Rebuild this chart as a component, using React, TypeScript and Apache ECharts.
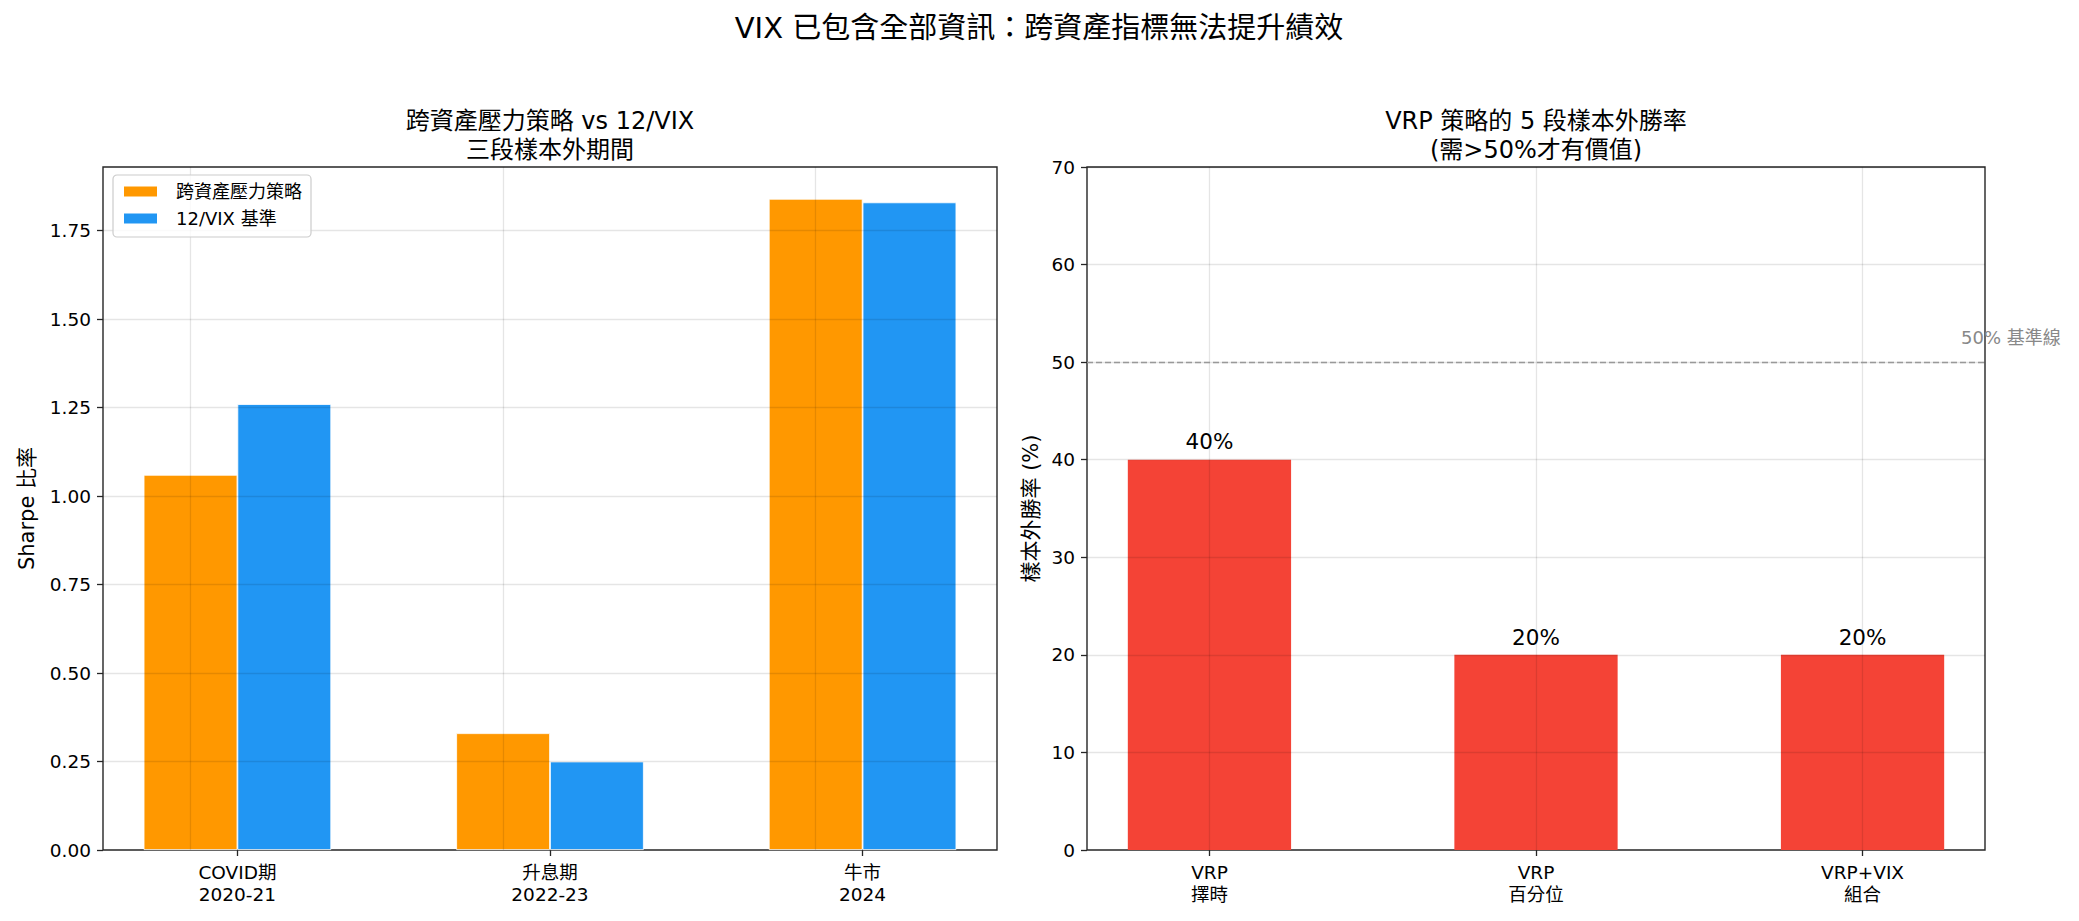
import React, { useEffect, useRef } from "react";
import * as echarts from "echarts";

const FONT = '"DejaVu Sans", "Noto Sans CJK TC", sans-serif';

const mainTitle = "VIX 已包含全部資訊：跨資產指標無法提升績效";
const leftTitle = "跨資產壓力策略 vs 12/VIX\n三段樣本外期間";
const rightTitle = "VRP 策略的 5 段樣本外勝率\n(需>50%才有價值)";

const leftCategories = ["COVID期\n2020-21", "升息期\n2022-23", "牛市\n2024"];
const seriesNames = ["跨資產壓力策略", "12/VIX 基準"];
const crossAssetSharpe = [1.06, 0.33, 1.84];
const vixBenchSharpe = [1.26, 0.25, 1.83];
const leftYTicks = [0, 0.25, 0.5, 0.75, 1.0, 1.25, 1.5, 1.75];

const rightCategories = ["VRP\n擇時", "VRP\n百分位", "VRP+VIX\n組合"];
const winRates = [40, 20, 20];
const rightYTicks = [0, 10, 20, 30, 40, 50, 60, 70];
const baselineValue = 50;
const baselineLabel = "50% 基準線";

const COLORS = { orange: "#FF9800", blue: "#2196F3", red: "#F44336" };
const GRID_LINE = "rgba(0,0,0,0.1)";
const AXIS_COLOR = "#262626";

export default function App() {
  const ref = useRef<HTMLDivElement>(null);
  useEffect(() => {
    if (!ref.current) return;
    const chart = echarts.init(ref.current, null, { renderer: "svg" });

    const L = { left: 103, top: 167, width: 894, height: 683, xMin: -0.43, xMax: 2.43, yMax: 1.93 };
    const R = { left: 1087, top: 167, width: 898, height: 683, xMin: -0.375, xMax: 2.375, yMax: 70 };
    const leftBarW = (0.3 * L.width) / (L.xMax - L.xMin);
    const rightBarW = (0.5 * R.width) / (R.xMax - R.xMin);

    const gridMarks = (yTicks: number[], n: number) => [
      ...yTicks.filter((v) => v > 0).map((v) => ({ yAxis: v })),
      ...Array.from({ length: n }, (_, i) => ({ xAxis: i })),
    ];

    const tickStyle = { color: AXIS_COLOR, width: 1.3 };

    const xAxisBase = (cats: string[], g: any, idx: number) => ({
      type: "value",
      gridIndex: idx,
      min: g.xMin,
      max: g.xMax,
      splitLine: { show: false },
      axisLine: { show: false, onZero: false },
      axisTick: {
        show: true,
        length: 6,
        lineStyle: tickStyle,
        customValues: cats.map((_, i) => i),
      },
      axisLabel: {
        customValues: cats.map((_, i) => i),
        formatter: (v: number) => cats[Math.round(v)] ?? "",
        fontFamily: FONT,
        fontSize: 18.5,
        lineHeight: 22,
        color: "#000",
        margin: 11,
      },
    });

    const yAxisBase = (ticks: number[], idx: number, max: number, digits: number, name: string, gap: number) => ({
      type: "value",
      gridIndex: idx,
      min: 0,
      max,
      splitLine: { show: false },
      axisLine: { show: false, onZero: false },
      axisTick: { show: true, length: 6, lineStyle: tickStyle, customValues: ticks },
      axisLabel: {
        customValues: ticks,
        formatter: (v: number) => v.toFixed(digits),
        fontFamily: FONT,
        fontSize: 18.5,
        color: "#000",
        margin: 12,
      },
      name,
      nameLocation: "middle",
      nameGap: gap,
      nameTextStyle: { fontFamily: FONT, fontSize: 21, color: "#000" },
    });

    const option: any = {
      animation: false,
      backgroundColor: "#fff",
      textStyle: { fontFamily: FONT },
      grid: [
        { left: L.left, top: L.top, width: L.width, height: L.height, show: true, borderColor: AXIS_COLOR, borderWidth: 1.4, backgroundColor: "transparent" },
        { left: R.left, top: R.top, width: R.width, height: R.height, show: true, borderColor: AXIS_COLOR, borderWidth: 1.4, backgroundColor: "transparent" },
      ],
      legend: {
        data: seriesNames,
        orient: "vertical",
        left: 113,
        top: 175,
        padding: [7, 9, 9, 9],
        itemGap: 8,
        itemWidth: 35,
        itemHeight: 12,
        icon: "rect",
        borderColor: "#cccccc",
        borderWidth: 1.2,
        borderRadius: 4,
        backgroundColor: "rgba(255,255,255,0.8)",
        z: 10,
        textStyle: { fontFamily: FONT, fontSize: 18, lineHeight: 19, color: "#000", padding: [0, 0, 0, 13] },
      },
      xAxis: [xAxisBase(leftCategories, L, 0), xAxisBase(rightCategories, R, 1)],
      yAxis: [
        yAxisBase(leftYTicks, 0, L.yMax, 2, "Sharpe 比率", 66),
        yAxisBase(rightYTicks, 1, R.yMax, 0, "樣本外勝率 (%)", 46),
      ],
      series: [
        {
          name: seriesNames[0],
          type: "bar",
          xAxisIndex: 0,
          yAxisIndex: 0,
          barWidth: leftBarW,
          barGap: "0%",
          data: crossAssetSharpe.map((v, i) => [i, v]),
          itemStyle: { color: COLORS.orange, borderColor: "#fff", borderWidth: 0.8 },
          markLine: {
            silent: true,
            symbol: "none",
            z: 5,
            label: { show: false },
            lineStyle: { color: GRID_LINE, width: 1.3, type: "solid" },
            emphasis: { disabled: true },
            data: gridMarks(leftYTicks, leftCategories.length),
          },
        },
        {
          name: seriesNames[1],
          type: "bar",
          xAxisIndex: 0,
          yAxisIndex: 0,
          barWidth: leftBarW,
          barGap: "0%",
          data: vixBenchSharpe.map((v, i) => [i, v]),
          itemStyle: { color: COLORS.blue, borderColor: "#fff", borderWidth: 0.8 },
        },
        {
          name: "勝率",
          type: "bar",
          xAxisIndex: 1,
          yAxisIndex: 1,
          barWidth: rightBarW,
          data: winRates.map((v, i) => [i, v]),
          itemStyle: { color: COLORS.red },
          label: {
            show: true,
            position: "top",
            distance: 7,
            formatter: (p: any) => `${p.value[1]}%`,
            fontFamily: FONT,
            fontSize: 21.5,
            color: "#000",
          },
          markLine: {
            silent: true,
            symbol: "none",
            z: 5,
            label: { show: false },
            emphasis: { disabled: true },
            lineStyle: { color: GRID_LINE, width: 1.3, type: "solid" },
            data: [
              ...gridMarks(rightYTicks, rightCategories.length),
              { yAxis: baselineValue, lineStyle: { color: "#999999", width: 1.4, type: [6, 3] } },
            ],
          },
        },
      ],
      graphic: [
        {
          type: "text",
          x: 1039,
          y: 28,
          style: { text: mainTitle, fontFamily: FONT, fontSize: 29, fill: "#000", align: "center", verticalAlign: "middle" },
        },
        {
          type: "text",
          x: L.left + L.width / 2,
          y: 135,
          style: { text: leftTitle, fontFamily: FONT, fontSize: 24, lineHeight: 29, fill: "#000", align: "center", verticalAlign: "middle" },
        },
        {
          type: "text",
          x: R.left + R.width / 2,
          y: 135,
          style: { text: rightTitle, fontFamily: FONT, fontSize: 24, lineHeight: 29, fill: "#000", align: "center", verticalAlign: "middle" },
        },
        {
          type: "text",
          x: 1961,
          y: 337,
          style: { text: baselineLabel, fontFamily: FONT, fontSize: 18, fill: "#888888", align: "left", verticalAlign: "middle" },
        },
      ],
    };

    chart.setOption(option);
    return () => chart.dispose();
  }, []);

  return (
    <div
      ref={ref}
      style={{ position: "absolute", left: 0, top: 0, width: 2079, height: 921, background: "#fff" }}
    />
  );
}
